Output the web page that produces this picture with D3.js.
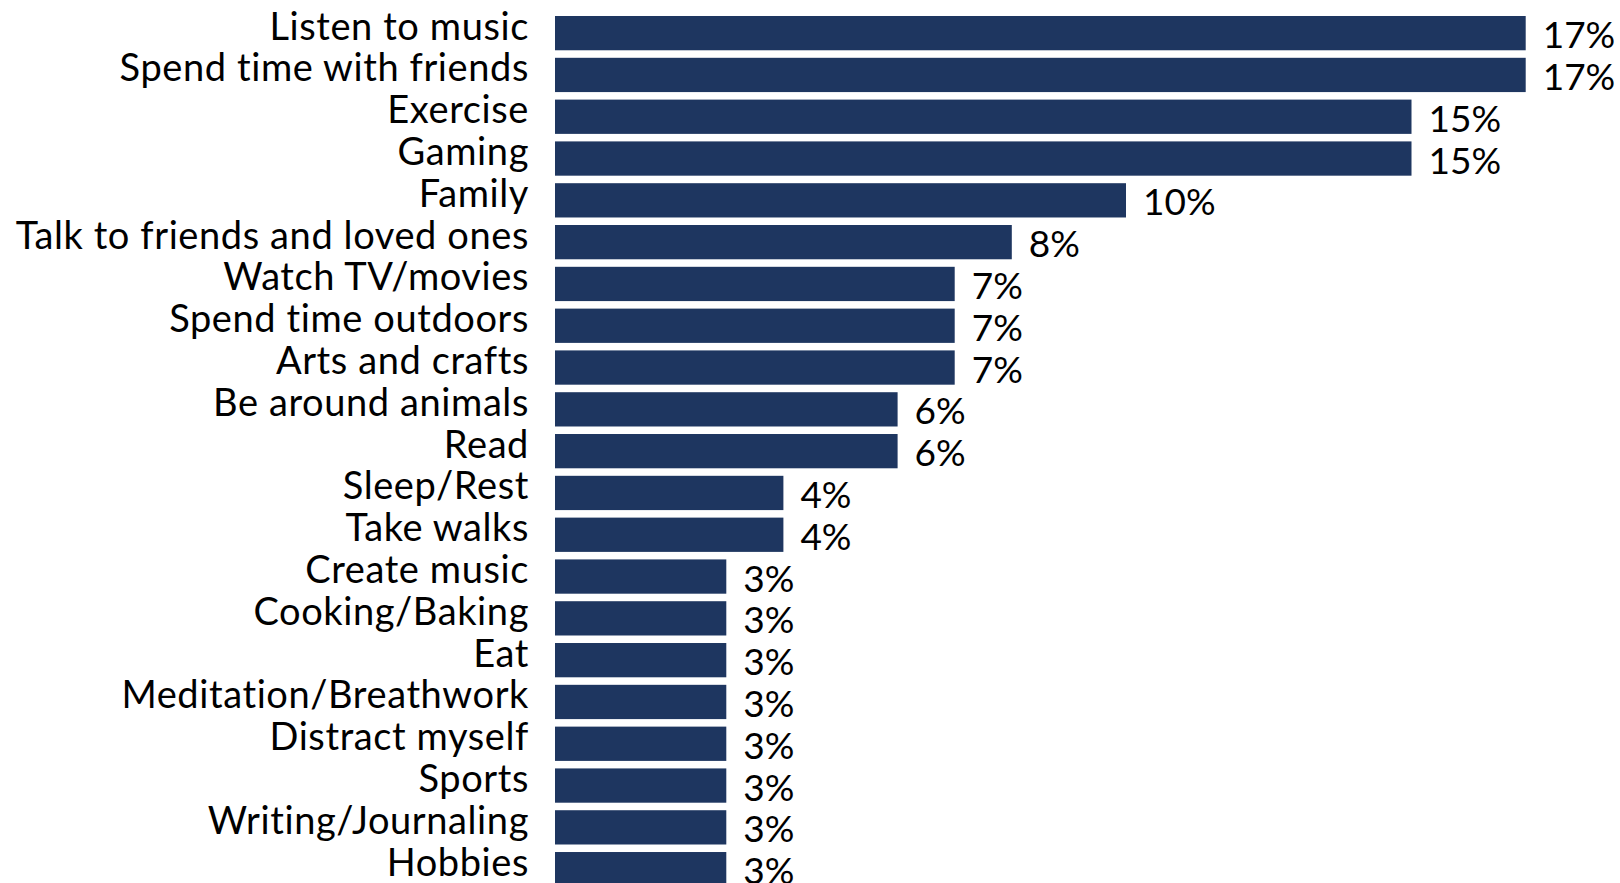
<!DOCTYPE html>
<html>
<head>
<meta charset="utf-8">
<script src="https://cdn.jsdelivr.net/npm/d3@7"></script>
<style>
  html, body { margin: 0; padding: 0; background: #fff; }
  svg { display: block; }
  text { font-family: Lato, "Open Sans", sans-serif; fill: #000; }
</style>
</head>
<body>
<svg id="chart" width="1620" height="883"></svg>
<script>
// Ways of coping, share of respondents (%)
const categories = [
  "Listen to music", "Spend time with friends", "Exercise", "Gaming", "Family",
  "Talk to friends and loved ones", "Watch TV/movies", "Spend time outdoors",
  "Arts and crafts", "Be around animals", "Read", "Sleep/Rest", "Take walks",
  "Create music", "Cooking/Baking", "Eat", "Meditation/Breathwork",
  "Distract myself", "Sports", "Writing/Journaling", "Hobbies"
];
const values = [17, 17, 15, 15, 10, 8, 7, 7, 7, 6, 6, 4, 4, 3, 3, 3, 3, 3, 3, 3, 3];

const svg = d3.select("#chart");
const barColor = "#1e3660";

const x = d3.scaleLinear().domain([0, 17]).range([555, 1525.7]);
const y = d3.scaleBand()
  .domain(categories)
  .range([16, 886.3])
  .paddingInner(0.18)
  .paddingOuter(0);

const data = categories.map((c, i) => ({ c, v: values[i] }));

svg.append("g").selectAll("rect")
  .data(data)
  .join("rect")
  .attr("x", x(0))
  .attr("y", d => y(d.c))
  .attr("width", d => x(d.v) - x(0))
  .attr("height", y.bandwidth())
  .attr("fill", barColor);

// Category labels, right-aligned against the bars
svg.append("g").selectAll("text")
  .data(data)
  .join("text")
  .attr("x", 529)
  .attr("y", d => y(d.c) + y.bandwidth() / 2 + 6.5)
  .attr("text-anchor", "end")
  .attr("font-size", 38)
  .attr("letter-spacing", 0.6)
  .text(d => d.c);

// Value labels at the end of each bar
svg.append("g").selectAll("text")
  .data(data)
  .join("text")
  .attr("x", d => x(d.v) + 17)
  .attr("y", d => y(d.c) + y.bandwidth() / 2 + 15)
  .attr("font-size", 37)
  .text(d => d.v + "%");
</script>
</body>
</html>
